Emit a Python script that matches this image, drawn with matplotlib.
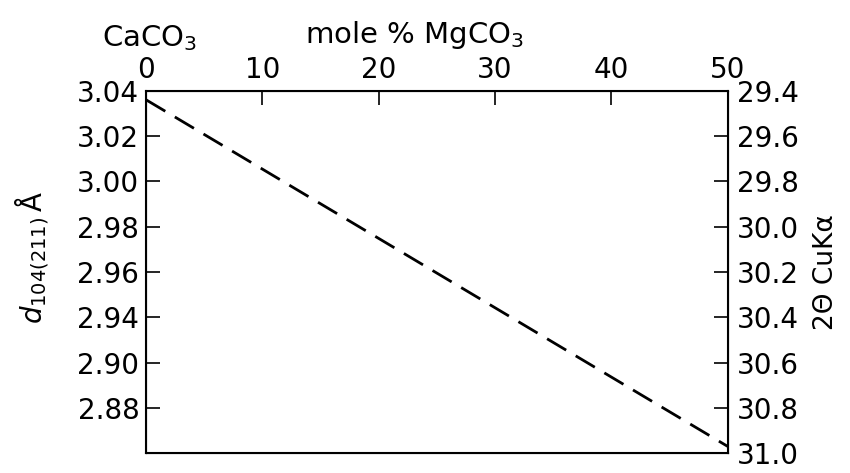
import matplotlib
matplotlib.use('Agg')
import matplotlib.pyplot as plt

plt.rcParams['font.family'] = ['DejaVu Sans']
plt.rcParams['mathtext.fontset'] = 'dejavusans'

# Data
mole_pct = [0, 50]
d_spacing = [3.036, 2.883]

top_ticks = [0, 10, 20, 30, 40, 50]
# left scale is evenly spaced in the original; the printed labels skip 2.92
left_ticks = [3.04, 3.02, 3.00, 2.98, 2.96, 2.94, 2.92, 2.90]
left_labels = ['3.04', '3.02', '3.00', '2.98', '2.96', '2.94', '2.90', '2.88']
right_ticks = [29.4, 29.6, 29.8, 30.0, 30.2, 30.4, 30.6, 30.8, 31.0]
right_labels = ['29.4', '29.6', '29.8', '30.0', '30.2', '30.4', '30.6', '30.8', '31.0']

fig = plt.figure(figsize=(8.5, 4.73), dpi=100)
ax = fig.add_axes([0.172, 0.042, 0.684, 0.766])

ax.plot(mole_pct, d_spacing, color='black', lw=2, dashes=(8, 4))

ax.set_xlim(0, 50)
ax.set_ylim(2.88, 3.04)
ax.xaxis.tick_top()
ax.set_xticks(top_ticks)
ax.set_xticklabels([str(t) for t in top_ticks])
ax.set_yticks(left_ticks)
ax.set_yticklabels(left_labels)
ax.tick_params(axis='both', direction='in', length=10, width=1.2, labelsize=20)
ax.tick_params(axis='x', pad=5)
ax.tick_params(axis='y', pad=5)
for s in ax.spines.values():
    s.set_linewidth(1.5)

ax.set_ylabel(r'$d_{104(211)}\,$Å', fontsize=20)
ax.yaxis.set_label_coords(-0.163, 0.54)

ax2 = ax.twinx()
ax2.set_ylim(31.0, 29.4)
ax2.set_yticks(right_ticks)
ax2.set_yticklabels(right_labels)
ax2.tick_params(axis='y', direction='in', length=10, width=1.2, labelsize=20, pad=7)
ax2.set_ylabel('2Θ CuKα', fontsize=19, labelpad=10)

fig.text(0.176, 0.92, r'CaCO$_3$', fontsize=21, ha='center', va='center')
fig.text(0.488, 0.925, r'mole % MgCO$_3$', fontsize=21, ha='center', va='center')

fig.savefig('out.png', dpi=100)
